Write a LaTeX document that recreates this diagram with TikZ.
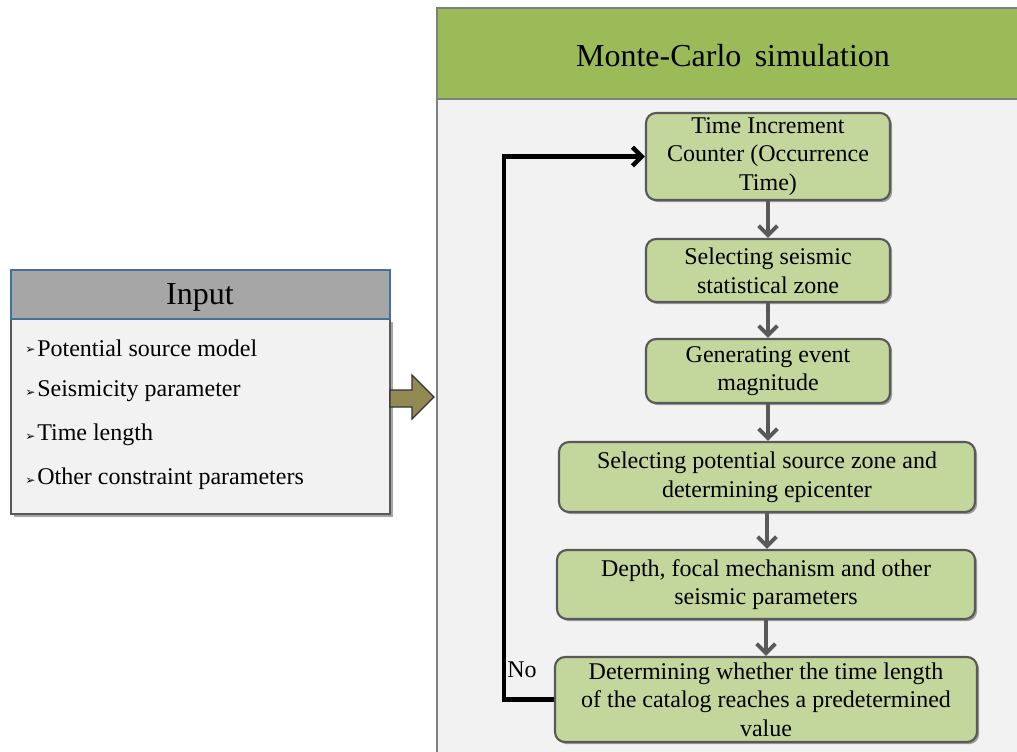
\documentclass[tikz,border=0pt]{standalone}
\usepackage{fontspec}
\setmainfont{Liberation Serif}
\newfontfamily\symfont{DejaVu Sans}
\usetikzlibrary{arrows.meta,shadows}
\definecolor{bgray}{HTML}{F2F2F2}
\definecolor{hgray}{HTML}{A6A6A6}
\definecolor{hblue}{HTML}{41719C}
\definecolor{dgray}{HTML}{595959}
\definecolor{mgray}{HTML}{7F7F7F}
\definecolor{hgreen}{HTML}{9BBB59}
\definecolor{lgreen}{HTML}{C3D69B}
\definecolor{olive}{HTML}{938953}
\tikzset{
  shad/.style={drop shadow={shadow xshift=1.6pt,shadow yshift=-1.6pt,opacity=0.35,fill=black}},
  flowbox/.style={rectangle,rounded corners=7.5pt,draw=dgray,line width=1.6pt,fill=lgreen,
    align=center,inner sep=0pt,font=\fontsize{18}{21.5}\selectfont,shad},
  flowarrow/.style={draw=dgray,line width=3pt,-{Straight Barb[length=7pt,width=14pt,line width=3pt]}},
  looparrow/.style={draw=black,line width=3.3pt,-{Straight Barb[length=7pt,width=14pt,line width=3.3pt]}},
  itemtxt/.style={anchor=west,inner sep=0pt,font=\fontsize{18}{21}\selectfont},
  bullet/.style={anchor=west,inner sep=0pt,font=\symfont\fontsize{9}{10}\selectfont},
  headtxt/.style={inner sep=0pt,font=\fontsize{24}{28}\selectfont}
}
\begin{document}
\begin{tikzpicture}[x=0.75pt,y=-0.75pt]
\useasboundingbox (0,0) rectangle (1017,751);
% container
\fill[bgray] (437,8) rectangle (1030,760);
\fill[hgreen] (437,8) rectangle (1030,99);
\draw[mgray,line width=2.2pt] (1030,8) -- (437,8) -- (437,760);
\draw[mgray,line width=2.2pt] (437,99) -- (1030,99);
\node[headtxt] (mctitle) at (733,56) {Monte-Carlo\, simulation};
% input box
\fill[black,opacity=0.35] (13.5,321.5) rectangle (392.5,516.5);
\draw[dgray,line width=1.6pt,fill=bgray] (11,319) rectangle (390,514);
\draw[hblue,line width=0.8pt,fill=hgray] (11,270) rectangle (390,319);
\node[headtxt] (intitle) at (200,297) {Input};
\node[bullet] (b1) at (25,350) {➢};
\node[itemtxt] (i1) at (37,348) {Potential source model};
\node[bullet] (b2) at (25,393) {➢};
\node[itemtxt] (i2) at (37,391) {Seismicity parameter};
\node[bullet] (b3) at (25,437) {➢};
\node[itemtxt] (i3) at (37,435) {Time length};
\node[bullet] (b4) at (25,481) {➢};
\node[itemtxt] (i4) at (37,479) {Other constraint parameters};
% block arrow
\draw[fill=olive,draw=black!80,line width=0.9pt,line join=miter]
  (390,390) -- (412,390) -- (412,375) -- (434,397) -- (412,419) -- (412,407) -- (390,407) -- cycle;
% flow boxes
\node[flowbox,minimum width=183pt,minimum height=65.25pt] (f1) at (768,156.5)
  {Time Increment\\Counter (Occurrence\\Time)};
\node[flowbox,minimum width=183pt,minimum height=47.25pt] (f2) at (768,270.5)
  {Selecting seismic\\statistical zone};
\node[flowbox,minimum width=183pt,minimum height=48pt] (f3) at (768,371)
  {Generating event\\magnitude};
\node[flowbox,minimum width=312pt,minimum height=52.5pt] (f4) at (767,477)
  {Selecting potential source zone and\\determining epicenter};
\node[flowbox,minimum width=313.5pt,minimum height=51.75pt] (f5) at (766,584.5)
  {Depth, focal mechanism and other\\seismic parameters};
\node[flowbox,minimum width=316.5pt,minimum height=63.75pt] (f6) at (766,699.5)
  {Determining whether the time length\\of the catalog reaches a predetermined\\value};
\draw[flowarrow] (f1.south) -- (f2.north);
\draw[flowarrow] (f2.south) -- (f3.north);
\draw[flowarrow] (f3.south) -- (f3.south |- f4.north);
\draw[flowarrow] (f4.south) -- (f4.south |- f5.north);
\draw[flowarrow] (f5.south) -- (f5.south |- f6.north);
\draw[looparrow] (f6.west) -- ++(-50,0) |- (f1.west);
\node[itemtxt] (no) at (507,670) {No};
\end{tikzpicture}
\end{document}
